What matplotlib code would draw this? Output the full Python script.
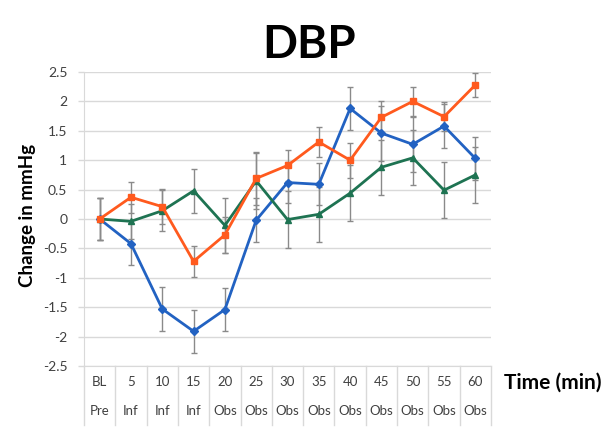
import matplotlib
matplotlib.use("Agg")
import matplotlib.pyplot as plt
import numpy as np

times = ["BL", "5", "10", "15", "20", "25", "30", "35", "40", "45", "50", "55", "60"]
phases = ["Pre", "Inf", "Inf", "Inf", "Obs", "Obs", "Obs", "Obs", "Obs", "Obs", "Obs", "Obs", "Obs"]

blue = [0.0, -0.42, -1.53, -1.91, -1.54, -0.02, 0.62, 0.59, 1.88, 1.46, 1.27, 1.58, 1.03]
blue_err = [0.35, 0.36, 0.37, 0.37, 0.37, 0.37, 0.35, 0.36, 0.37, 0.47, 0.47, 0.37, 0.37]
orange = [0.0, 0.37, 0.21, -0.72, -0.27, 0.69, 0.91, 1.31, 1.0, 1.73, 2.0, 1.74, 2.28]
orange_err = [0.35, 0.26, 0.3, 0.26, 0.3, 0.45, 0.26, 0.26, 0.3, 0.27, 0.25, 0.25, 0.2]
green = [0.0, -0.04, 0.14, 0.48, -0.11, 0.65, -0.01, 0.08, 0.44, 0.88, 1.04, 0.49, 0.75]
green_err = [0.35, 0.3, 0.35, 0.37, 0.47, 0.48, 0.48, 0.47, 0.47, 0.47, 0.47, 0.48, 0.47]

plt.rcParams['font.family'] = ['Lato', 'DejaVu Sans']

fig = plt.figure(figsize=(6.09, 4.36), dpi=100)
W, H = 609, 436
ax = fig.add_axes([84 / W, (H - 366) / H, 407 / W, 294 / H])

x = np.arange(len(times))
ecol = "#8a8a8a"
for vals, errs, col, mk, ms in [
    (blue, blue_err, "#2262c2", "D", 4),
    (green, green_err, "#1e7352", "^", 5),
    (orange, orange_err, "#ff5a1e", "s", 5),
]:
    ax.errorbar(x, vals, yerr=errs, fmt="none", ecolor=ecol, elinewidth=1.0,
                capsize=2, capthick=1.0, zorder=2)
    ax.plot(x, vals, color=col, lw=2, marker=mk, ms=ms, zorder=3)

ax.set_xlim(-0.5, len(times) - 0.5)
ax.set_ylim(-2.5, 2.5)
ax.set_yticks(np.arange(-2.5, 2.51, 0.5))
ax.set_yticklabels([f"{v:g}" for v in np.arange(-2.5, 2.51, 0.5)], fontsize=10,
                   color="#404040")
ax.yaxis.grid(True, color="#d9d9d9", lw=1)
ax.set_axisbelow(True)
ax.tick_params(axis="y", length=4, width=1, color="#d9d9d9", pad=8)
ax.set_xticks([])
for s in ["top", "right"]:
    ax.spines[s].set_visible(False)
ax.spines["left"].set_color("#d9d9d9")
ax.spines["bottom"].set_color("#d9d9d9")

tr = ax.get_xaxis_transform()
for k in range(len(times) + 1):
    ax.plot([k - 0.5, k - 0.5], [0, -0.20], transform=tr, color="#d9d9d9",
            lw=1, clip_on=False)
for i, (t, p) in enumerate(zip(times, phases)):
    ax.text(i, -0.055, t, transform=tr, ha="center", va="center", fontsize=9.5,
            color="#404040")
    ax.text(i, -0.153, p, transform=tr, ha="center", va="center", fontsize=9.5,
            color="#404040")

fig.text(28 / W, 1 - 215 / H, "Change in mmHg", ha="center", va="center",
         rotation=90, fontsize=13.5, fontweight="bold")
fig.text(553 / W, 1 - 383 / H, "Time (min)", ha="center", va="center",
         fontsize=15, fontweight="bold")
fig.text(309 / W, 1 - 45 / H, "DBP", ha="center", va="center",
         fontsize=33, fontweight="bold")

fig.savefig("out.png", dpi=100)
